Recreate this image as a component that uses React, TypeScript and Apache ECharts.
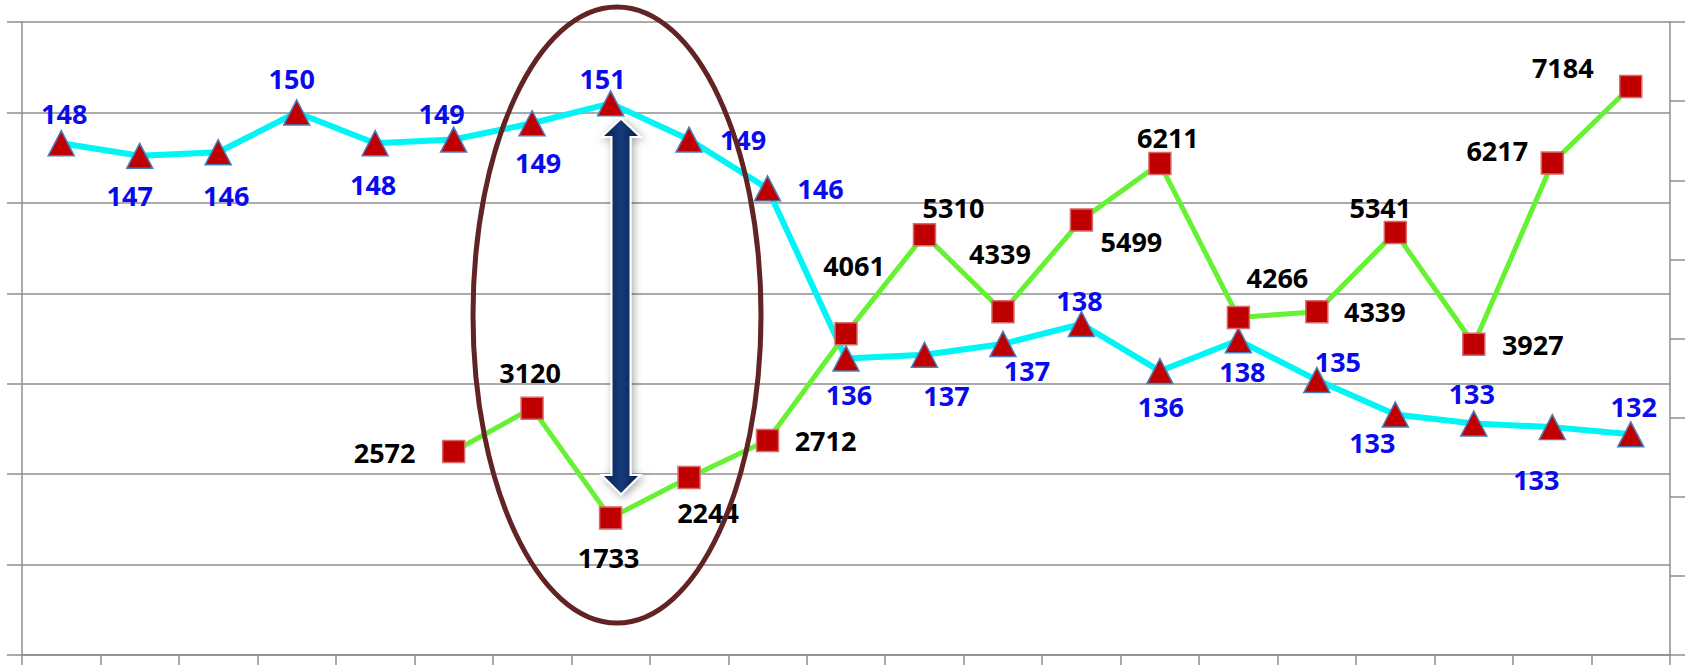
import React, { useEffect, useRef } from "react";
import * as echarts from "echarts";

// ---- data ----
const categories = ["1", "2", "3", "4", "5", "6", "7", "8", "9", "10", "11", "12", "13", "14", "15", "16", "17", "18", "19", "20", "21"];
// plotted positions of the cyan series (left axis)
const speedValues = [148.3, 147.6, 147.8, 150.0, 148.3, 148.5, 149.4, 150.5, 148.5, 145.8, 136.4, 136.6, 137.2, 138.3, 135.7, 137.4, 135.2, 133.3, 132.8, 132.6, 132.2];
// texts printed next to the cyan points
const speedLabels = ["148", "147", "146", "150", "148", "149", "149", "151", "149", "146", "136", "137", "137", "138", "136", "138", "135", "133", "133", "133", "132"];
// green series (right axis)
const countValues = [null, null, null, null, null, 2572, 3120, 1733, 2244, 2712, 4061, 5310, 4339, 5499, 6211, 4266, 4339, 5341, 3927, 6217, 7184];
const leftAxisRange = { min: 120, max: 155, interval: 5 };
const rightAxisRange = { min: 0, max: 8000, interval: 1000 };

// ---- layout of the labels (offset from each point, px) ----
const speedLabelOffsets = [[3, -30], [-10, 40], [8, 43], [-5, -34], [-2, 41], [-12, -26], [6, 39], [-8, -25], [54, 0], [53, 0], [3, 36], [22, 41], [24, 27], [-2, -24], [1, 35], [4, 31], [21, -19], [-23, 28], [-2, -30], [-16, 52], [3, -28]];
const countLabelOffsets = [null, null, null, null, null, [-69, 1], [-2, -36], [-2, 40], [19, 35], [58, 0], [8, -68], [29, -27], [-3, -58], [50, 22], [8, -26], [39, -40], [58, 0], [-15, -25], [59, 0], [-55, -13], [-68, -19]];

const GRID = "#8e8e8e";
const FONT = "'Open Sans', 'Liberation Sans', sans-serif";

export default function App() {
  const ref = useRef<HTMLDivElement>(null);
  useEffect(() => {
    document.body.style.margin = "0";
    const chart = echarts.init(ref.current!, null, { renderer: "svg" });

    const speedData = speedValues.map((v, i) => ({
      value: v,
      label: { offset: speedLabelOffsets[i] },
    }));
    const countData = countValues.map((v, i) =>
      v == null ? null : { value: v, label: { offset: countLabelOffsets[i] } }
    );

    const arrowPts = [
      [621, 120], [638, 136], [629.5, 136], [629.5, 476], [638, 476], [621, 493],
      [604, 476], [612.5, 476], [612.5, 136], [604, 136],
    ];
    const arrowFill = () =>
      new echarts.graphic.LinearGradient(0, 0, 1, 0, [
        { offset: 0, color: "#08204f" },
        { offset: 0.5, color: "#173a7a" },
        { offset: 1, color: "#08204f" },
      ]);

    chart.setOption({
      animation: false,
      backgroundColor: "#ffffff",
      grid: { left: 22, right: 18, top: 22, bottom: 10, containLabel: false },
      xAxis: {
        type: "category",
        data: categories,
        boundaryGap: true,
        axisLine: { show: true, lineStyle: { color: GRID, width: 1.5 } },
        axisTick: { show: true, interval: 0, alignWithLabel: false, length: 10, lineStyle: { color: GRID, width: 1.5 } },
        axisLabel: { show: false },
        splitLine: { show: false },
      },
      yAxis: [
        {
          type: "value",
          position: "left",
          ...leftAxisRange,
          axisLine: { show: true, lineStyle: { color: GRID, width: 1.5 } },
          axisTick: { show: true, length: 15, lineStyle: { color: GRID, width: 1.5 } },
          axisLabel: { show: false },
          splitLine: { show: true, lineStyle: { color: GRID, width: 1.5 } },
        },
        {
          type: "value",
          position: "right",
          ...rightAxisRange,
          axisLine: { show: true, lineStyle: { color: GRID, width: 1.5 } },
          axisTick: { show: true, length: 15, lineStyle: { color: GRID, width: 1.5 } },
          axisLabel: { show: false },
          splitLine: { show: false },
        },
      ],
      series: [
        {
          name: "speed",
          type: "line",
          yAxisIndex: 0,
          data: speedData,
          silent: true,
          lineStyle: { color: "#00f5f5", width: 6 },
          symbol: "triangle",
          symbolSize: [26, 25],
          itemStyle: { color: "#c00000", borderColor: "#4a7ebb", borderWidth: 1.5 },
          label: {
            show: true,
            position: "inside",
            formatter: (p: any) => speedLabels[p.dataIndex],
            color: "#0a0aee",
            fontFamily: FONT,
            fontWeight: "bold",
            fontSize: 27,
            align: "center",
            verticalAlign: "middle",
          },
          z: 3,
        },
        {
          name: "count",
          type: "line",
          yAxisIndex: 1,
          data: countData,
          silent: true,
          lineStyle: { color: "#66f233", width: 5 },
          symbol: "rect",
          symbolSize: 22,
          itemStyle: { color: "#c00000", borderColor: "#d86a6a", borderWidth: 1.5 },
          label: {
            show: true,
            position: "inside",
            color: "#000000",
            fontFamily: FONT,
            fontWeight: "bold",
            fontSize: 27,
            align: "center",
            verticalAlign: "middle",
          },
          z: 4,
        },
      ],
      graphic: [
        {
          type: "ellipse",
          z: 100,
          silent: true,
          shape: { cx: 617, cy: 315, rx: 144, ry: 308 },
          style: { fill: "none", stroke: "#612323", lineWidth: 5 },
        },
        {
          type: "polygon",
          z: 101,
          silent: true,
          shape: { points: arrowPts },
          style: {
            fill: arrowFill(),
            stroke: "#ffffff",
            lineWidth: 4,
            shadowBlur: 8,
            shadowColor: "rgba(0,0,0,0.35)",
            shadowOffsetX: 2,
            shadowOffsetY: 2,
          },
        },
        {
          type: "polygon",
          z: 102,
          silent: true,
          shape: { points: arrowPts },
          style: { fill: arrowFill() },
        },
      ],
    });
    return () => chart.dispose();
  }, []);
  return <div ref={ref} style={{ width: 1688, height: 665 }} />;
}
